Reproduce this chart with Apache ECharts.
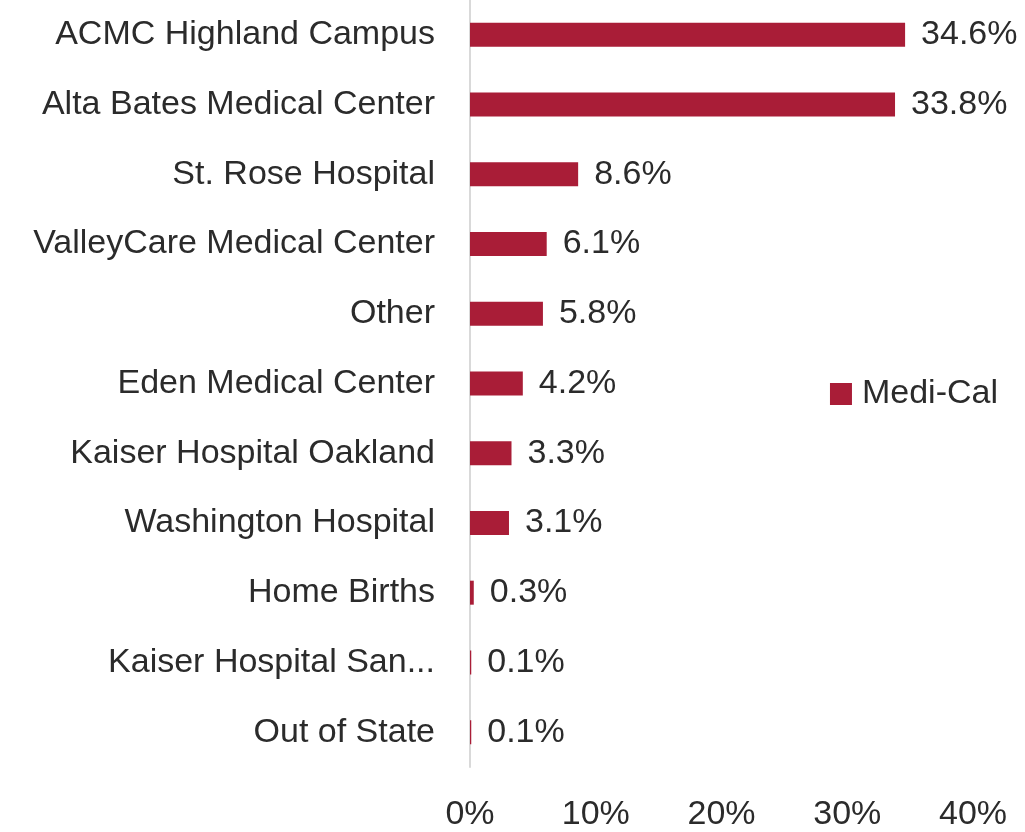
<!DOCTYPE html>
<html>
<head>
<meta charset="utf-8">
<script src="https://cdn.jsdelivr.net/npm/echarts@6/dist/echarts.min.js"></script>
<style>
  html, body { margin: 0; padding: 0; background: #fff; }
  #chart { width: 1025px; height: 832px; }
</style>
</head>
<body>
<div id="chart"></div>
<script>
const hospitals = [
  'ACMC Highland Campus',
  'Alta Bates Medical Center',
  'St. Rose Hospital',
  'ValleyCare Medical Center',
  'Other',
  'Eden Medical Center',
  'Kaiser Hospital Oakland',
  'Washington Hospital',
  'Home Births',
  'Kaiser Hospital San...',
  'Out of State'
];
const mediCal = [34.6, 33.8, 8.6, 6.1, 5.8, 4.2, 3.3, 3.1, 0.3, 0.1, 0.1];
const xTicks = [0, 10, 20, 30, 40];

const chart = echarts.init(document.getElementById('chart'));
const textColor = '#2b2b2b';
const fontFamily = '"Liberation Sans", Arial, sans-serif';
const fontSize = 34;

chart.setOption({
  animation: false,
  textStyle: { fontFamily },
  legend: {
    data: ['Medi-Cal'],
    right: 22,
    top: 372,
    itemWidth: 22,
    itemHeight: 22,
    icon: 'rect',
    textStyle: { fontSize, color: textColor, fontFamily, padding: [0, 0, 0, 5] }
  },
  grid: {
    left: 470,
    right: 52,
    top: 0,
    height: 767
  },
  xAxis: {
    type: 'value',
    min: xTicks[0],
    max: xTicks[xTicks.length - 1],
    interval: 10,
    splitLine: { show: false },
    axisLine: { show: false },
    axisTick: { show: false },
    axisLabel: {
      formatter: '{value}%',
      fontSize,
      color: textColor,
      margin: 31,
      fontFamily
    }
  },
  yAxis: {
    type: 'category',
    data: hospitals,
    inverse: true,
    axisLine: { show: true, lineStyle: { color: '#d9d9d9', width: 2 } },
    axisTick: { show: false },
    axisLabel: {
      fontSize,
      color: textColor,
      margin: 35,
      fontFamily
    }
  },
  series: [{
    name: 'Medi-Cal',
    type: 'bar',
    data: mediCal,
    barWidth: 24,
    itemStyle: { color: '#a91d37' },
    label: {
      show: true,
      position: 'right',
      distance: 16,
      formatter: p => p.value.toFixed(1) + '%',
      fontSize,
      color: textColor,
      fontFamily
    }
  }]
});
</script>
</body>
</html>
